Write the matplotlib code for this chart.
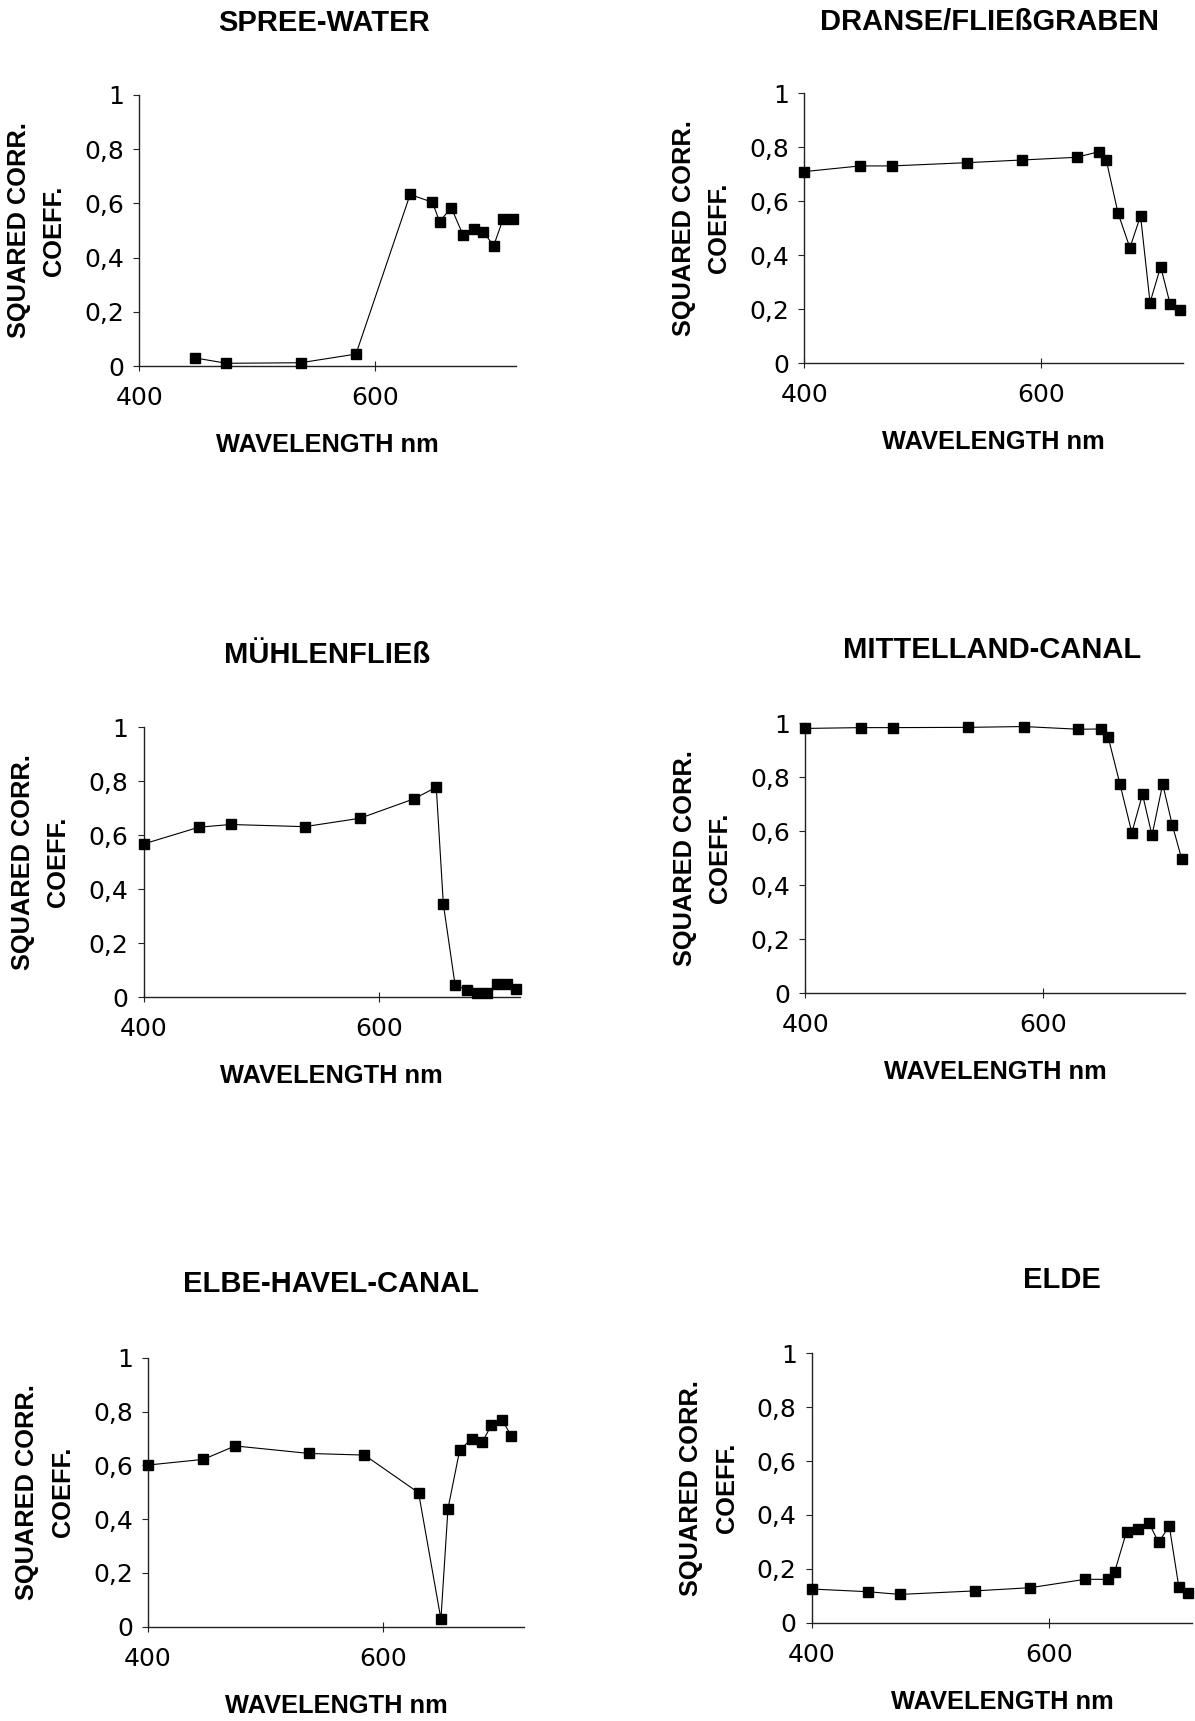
import matplotlib
matplotlib.use("Agg")
import matplotlib.pyplot as plt
from matplotlib.ticker import FixedLocator, FuncFormatter

# ---------------- data ----------------
WAVELENGTHS = [400, 447, 474, 537, 584, 630, 649, 655, 665, 675, 684, 692, 701, 709, 717]

TITLES = ["SPREE-WATER", "DRANSE/FLIEßGRABEN", "MÜHLENFLIEß",
          "MITTELLAND-CANAL", "ELBE-HAVEL-CANAL", "ELDE"]

SPREE_WL = WAVELENGTHS[1:]
SPREE = [0.03, 0.01, 0.012, 0.044, 0.633, 0.604, 0.533, 0.584, 0.483, 0.505,
         0.496, 0.444, 0.542, 0.542]

DRANSE_WL = WAVELENGTHS
DRANSE = [0.71, 0.731, 0.731, 0.743, 0.753, 0.763, 0.784, 0.753, 0.556, 0.428,
          0.546, 0.225, 0.358, 0.219, 0.198]

MUEHLEN_WL = WAVELENGTHS
MUEHLEN = [0.568, 0.63, 0.64, 0.632, 0.663, 0.735, 0.778, 0.346, 0.046, 0.027,
           0.015, 0.015, 0.048, 0.048, 0.03]

MITTELLAND_WL = WAVELENGTHS
MITTELLAND = [0.981, 0.984, 0.984, 0.985, 0.988, 0.978, 0.979, 0.95, 0.775, 0.595,
              0.737, 0.585, 0.775, 0.625, 0.498]

ELBEHAVEL_WL = WAVELENGTHS[:14]
ELBEHAVEL = [0.601, 0.622, 0.672, 0.644, 0.638, 0.498, 0.028, 0.439, 0.657, 0.698,
             0.685, 0.75, 0.768, 0.709]

ELDE_WL = WAVELENGTHS
ELDE = [0.125, 0.115, 0.105, 0.118, 0.13, 0.161, 0.161, 0.189, 0.338, 0.347,
        0.369, 0.298, 0.359, 0.134, 0.111]

X_TICKS = [400, 600]
Y_TICKS = [0, 0.2, 0.4, 0.6, 0.8, 1]
X_LABEL = "WAVELENGTH nm"
Y_LABEL = "SQUARED CORR.\nCOEFF."

SERIES = [(SPREE_WL, SPREE), (DRANSE_WL, DRANSE), (MUEHLEN_WL, MUEHLEN),
          (MITTELLAND_WL, MITTELLAND), (ELBEHAVEL_WL, ELBEHAVEL), (ELDE_WL, ELDE)]

# ---------------- layout (pixels) ----------------
W, H = 1195, 1721
# (x at 400nm, px per nm, y at 0, y at 1)
AXES_PX = [
    (139.4, 1.177, 366.0, 95.0),
    (804.3, 1.184, 363.3, 93.3),
    (143.7, 1.175, 997.3, 727.3),
    (805.4, 1.187, 993.3, 723.3),
    (148.1, 1.176, 1626.7, 1357.7),
    (812.0, 1.187, 1622.7, 1353.3),
]
TITLE_PX = [(324, 23), (989, 22), (327, 655), (992, 650), (331, 1284), (1062, 1280)]
XMIN, XMAX = 400, 720

fig = plt.figure(figsize=(W / 100, H / 100), dpi=100)
fig.patch.set_facecolor("white")

tick_font = dict(family="DejaVu Sans", size=18)
label_font = dict(family="Liberation Sans", weight="bold", size=18.3)
title_font = dict(family="Liberation Sans", weight="bold", size=21)


def fmt(v, pos):
    if abs(v - round(v)) < 1e-9:
        return str(int(round(v)))
    return ("%.1f" % v).replace(".", ",")


for i, ((wl, vals), (x0, ppn, y0, y1), title, (tx, ty)) in enumerate(
        zip(SERIES, AXES_PX, TITLES, TITLE_PX)):
    width = (XMAX - XMIN) * ppn
    height = y0 - y1
    ax = fig.add_axes([x0 / W, (H - y0) / H, width / W, height / H])
    ax.plot(wl, vals, color="black", linewidth=0.8, marker="s",
            markersize=7.4, markerfacecolor="black", markeredgecolor="black",
            clip_on=False, zorder=3)
    ax.set_xlim(XMIN, XMAX)
    ax.set_ylim(0, 1)
    for s in ("top", "right"):
        ax.spines[s].set_visible(False)
    for s in ("left", "bottom"):
        ax.spines[s].set_linewidth(1.0)
        ax.spines[s].set_color("#222222")
    ax.xaxis.set_major_locator(FixedLocator(X_TICKS))
    ax.yaxis.set_major_locator(FixedLocator(Y_TICKS))
    ax.yaxis.set_major_formatter(FuncFormatter(fmt))
    ax.xaxis.set_major_formatter(FuncFormatter(fmt))
    ax.tick_params(axis="x", direction="inout", length=7, width=0.8, pad=11,
                   colors="#222222", labelcolor="black")
    ax.tick_params(axis="y", direction="out", length=4, width=0.8, pad=7,
                   colors="#222222", labelcolor="black")
    for lab in ax.get_xticklabels() + ax.get_yticklabels():
        lab.set_fontfamily(tick_font["family"])
        lab.set_fontsize(tick_font["size"])
    ax.patch.set_alpha(0)

    # x label centred under axes
    cx = x0 + width / 2
    fig.text(cx / W, 1 - (y0 + 79) / H, X_LABEL, ha="center", va="center",
             **label_font)
    # y label two lines, rotated
    cy = (y0 + y1) / 2
    fig.text((x0 - 103) / W, 1 - cy / H, Y_LABEL, rotation=90, ha="center",
             va="center", multialignment="center", linespacing=1.6,
             **label_font)
    # title
    fig.text(tx / W, 1 - ty / H, title, ha="center", va="center", **title_font)

fig.savefig("out.png", dpi=100, facecolor="white")
